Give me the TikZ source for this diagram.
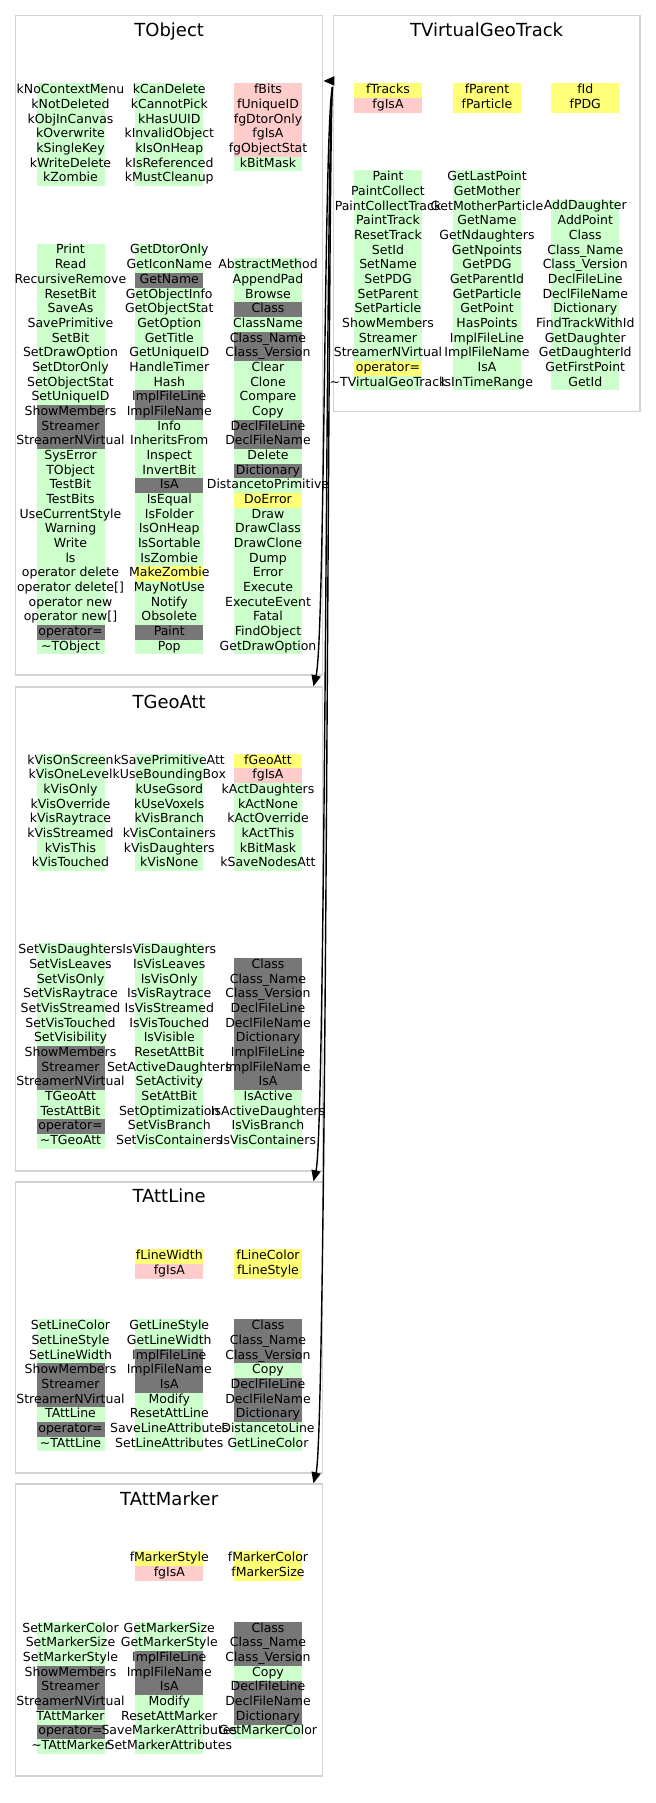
\documentclass[tikz,border=0pt]{standalone}
\usepackage{fontspec}
\setmainfont{DejaVu Sans}
\usetikzlibrary{arrows.meta,fit}
\definecolor{cG}{HTML}{CCFFCC}
\definecolor{cP}{HTML}{FFCCCC}
\definecolor{cY}{HTML}{FFFF77}
\definecolor{cD}{HTML}{777777}
\definecolor{boxgray}{HTML}{D3D3D3}
\newcommand\mytilde{\char"7E}
\newif\iffillpass
\tikzset{
  mem/.style={inner sep=0pt, outer sep=0pt, font=\fontsize{6.25}{7.5}\selectfont, text height=4.6pt, text depth=1.6pt, anchor=center},
  ttl/.style={inner sep=0pt, font=\fontsize{9}{10}\selectfont, text height=6.6pt, text depth=0pt},
  clsbox/.style={draw=boxgray, line width=0.75pt, inner sep=0pt},
  edge/.style={draw=black, line width=0.7pt, -{Triangle[length=5.5pt,width=4.6pt]}}
}
\newcommand\mycol[4]{%
  \foreach \mcl/\mtxt [count=\mi from 0] in {#4} {
    \iffillpass
      \fill[fill=c\mcl] ({#2-34},{#3+\mi*14.667-7.333}) rectangle ++(68,14.667);
    \else
      \node[mem] (#1-\mi) at ({#2},{#3+\mi*14.667}) {\mtxt};
    \fi
  }}
\newcommand\drawcols{%
% TObject
\mycol{of1}{70.5}{90.7}{G/kNoContextMenu,G/kNotDeleted,G/kObjInCanvas,G/kOverwrite,G/kSingleKey,G/kWriteDelete,G/kZombie}
\mycol{of2}{169.3}{90.7}{G/kCanDelete,G/kCannotPick,G/kHasUUID,G/kInvalidObject,G/kIsOnHeap,G/kIsReferenced,G/kMustCleanup}
\mycol{of3}{268}{90.7}{P/fBits,P/fUniqueID,P/fgDtorOnly,P/fgIsA,P/fgObjectStat,G/kBitMask}
\mycol{om1}{70.5}{251}{G/Print,G/Read,G/RecursiveRemove,G/ResetBit,G/SaveAs,G/SavePrimitive,G/SetBit,G/SetDrawOption,G/SetDtorOnly,G/SetObjectStat,G/SetUniqueID,D/ShowMembers,D/Streamer,D/StreamerNVirtual,G/SysError,G/TObject,G/TestBit,G/TestBits,G/UseCurrentStyle,G/Warning,G/Write,G/ls,G/operator delete,G/operator delete[],G/operator new,G/operator new[],D/operator=,G/\mytilde TObject}
\mycol{om2}{169.3}{251}{G/GetDtorOnly,G/GetIconName,D/GetName,G/GetObjectInfo,G/GetObjectStat,G/GetOption,G/GetTitle,G/GetUniqueID,G/HandleTimer,G/Hash,D/ImplFileLine,D/ImplFileName,G/Info,G/InheritsFrom,G/Inspect,G/InvertBit,D/IsA,G/IsEqual,G/IsFolder,G/IsOnHeap,G/IsSortable,G/IsZombie,Y/MakeZombie,G/MayNotUse,G/Notify,G/Obsolete,D/Paint,G/Pop}
\mycol{om3}{268}{265.67}{G/AbstractMethod,G/AppendPad,G/Browse,D/Class,G/ClassName,D/Class\_Name,D/Class\_Version,G/Clear,G/Clone,G/Compare,G/Copy,D/DeclFileLine,D/DeclFileName,G/Delete,D/Dictionary,G/DistancetoPrimitive,Y/DoError,G/Draw,G/DrawClass,G/DrawClone,G/Dump,G/Error,G/Execute,G/ExecuteEvent,G/Fatal,G/FindObject,G/GetDrawOption}
% TVirtualGeoTrack
\mycol{vf1}{388}{90.7}{Y/fTracks,P/fgIsA}
\mycol{vf2}{487}{90.7}{Y/fParent,Y/fParticle}
\mycol{vf3}{585.3}{90.7}{Y/fId,Y/fPDG}
\mycol{vm1}{388}{177.7}{G/Paint,G/PaintCollect,G/PaintCollectTrack,G/PaintTrack,G/ResetTrack,G/SetId,G/SetName,G/SetPDG,G/SetParent,G/SetParticle,G/ShowMembers,G/Streamer,G/StreamerNVirtual,Y/operator=,G/\mytilde TVirtualGeoTrack}
\mycol{vm2}{487}{177.7}{G/GetLastPoint,G/GetMother,G/GetMotherParticle,G/GetName,G/GetNdaughters,G/GetNpoints,G/GetPDG,G/GetParentId,G/GetParticle,G/GetPoint,G/HasPoints,G/ImplFileLine,G/ImplFileName,G/IsA,G/IsInTimeRange}
\mycol{vm3}{585.3}{207}{G/AddDaughter,G/AddPoint,G/Class,G/Class\_Name,G/Class\_Version,G/DeclFileLine,G/DeclFileName,G/Dictionary,G/FindTrackWithId,G/GetDaughter,G/GetDaughterId,G/GetFirstPoint,G/GetId}
% TGeoAtt
\mycol{gf1}{70.5}{761}{G/kVisOnScreen,G/kVisOneLevel,G/kVisOnly,G/kVisOverride,G/kVisRaytrace,G/kVisStreamed,G/kVisThis,G/kVisTouched}
\mycol{gf2}{169.3}{761}{G/kSavePrimitiveAtt,G/kUseBoundingBox,G/kUseGsord,G/kUseVoxels,G/kVisBranch,G/kVisContainers,G/kVisDaughters,G/kVisNone}
\mycol{gf3}{268}{761}{Y/fGeoAtt,P/fgIsA,G/kActDaughters,G/kActNone,G/kActOverride,G/kActThis,G/kBitMask,G/kSaveNodesAtt}
\mycol{gm1}{70.5}{950.7}{G/SetVisDaughters,G/SetVisLeaves,G/SetVisOnly,G/SetVisRaytrace,G/SetVisStreamed,G/SetVisTouched,G/SetVisibility,D/ShowMembers,D/Streamer,D/StreamerNVirtual,G/TGeoAtt,G/TestAttBit,D/operator=,G/\mytilde TGeoAtt}
\mycol{gm2}{169.3}{950.7}{G/IsVisDaughters,G/IsVisLeaves,G/IsVisOnly,G/IsVisRaytrace,G/IsVisStreamed,G/IsVisTouched,G/IsVisible,G/ResetAttBit,G/SetActiveDaughters,G/SetActivity,G/SetAttBit,G/SetOptimization,G/SetVisBranch,G/SetVisContainers}
\mycol{gm3}{268}{965.4}{D/Class,D/Class\_Name,D/Class\_Version,D/DeclFileLine,D/DeclFileName,D/Dictionary,D/ImplFileLine,D/ImplFileName,D/IsA,G/IsActive,G/IsActiveDaughters,G/IsVisBranch,G/IsVisContainers}
% TAttLine
\mycol{lf2}{169.3}{1256.7}{Y/fLineWidth,P/fgIsA}
\mycol{lf3}{268}{1256.7}{Y/fLineColor,Y/fLineStyle}
\mycol{lm1}{70.5}{1326.7}{G/SetLineColor,G/SetLineStyle,G/SetLineWidth,D/ShowMembers,D/Streamer,D/StreamerNVirtual,G/TAttLine,D/operator=,G/\mytilde TAttLine}
\mycol{lm2}{169.3}{1326.7}{G/GetLineStyle,G/GetLineWidth,D/ImplFileLine,D/ImplFileName,D/IsA,G/Modify,G/ResetAttLine,G/SaveLineAttributes,G/SetLineAttributes}
\mycol{lm3}{268}{1326.7}{D/Class,D/Class\_Name,D/Class\_Version,G/Copy,D/DeclFileLine,D/DeclFileName,D/Dictionary,G/DistancetoLine,G/GetLineColor}
% TAttMarker
\mycol{mf2}{169.3}{1558.7}{Y/fMarkerStyle,P/fgIsA}
\mycol{mf3}{268}{1558.7}{Y/fMarkerColor,Y/fMarkerSize}
\mycol{mm1}{70.5}{1629.3}{G/SetMarkerColor,G/SetMarkerSize,G/SetMarkerStyle,D/ShowMembers,D/Streamer,D/StreamerNVirtual,G/TAttMarker,D/operator=,G/\mytilde TAttMarker}
\mycol{mm2}{169.3}{1629.3}{G/GetMarkerSize,G/GetMarkerStyle,D/ImplFileLine,D/ImplFileName,D/IsA,G/Modify,G/ResetAttMarker,G/SaveMarkerAttributes,G/SetMarkerAttributes}
\mycol{mm3}{268}{1629.3}{D/Class,D/Class\_Name,D/Class\_Version,G/Copy,D/DeclFileLine,D/DeclFileName,D/Dictionary,G/GetMarkerColor}
}
\begin{document}
\begin{tikzpicture}[x=0.5pt,y=-0.5pt]
\useasboundingbox (0,0) rectangle (656,1803);
\fill[white] (0,0) rectangle (656,1803);
% class boxes
\node[clsbox, fit={(15.7,15.7) (322.7,675)}] (tobj) {};
\node[clsbox, fit={(333.3,15.7) (640,411.5)}] (tvgt) {};
\node[clsbox, fit={(15.7,687) (322.7,1171)}] (geo) {};
\node[clsbox, fit={(15.7,1182) (322.7,1473)}] (line) {};
\node[clsbox, fit={(15.7,1484) (322.7,1776)}] (marker) {};
% titles
\node[ttl] (tobjT) at (169.2,30.2) {TObject};
\node[ttl] (tvgtT) at (486.6,30.2) {TVirtualGeoTrack};
\node[ttl] (geoT) at (169.2,701.7) {TGeoAtt};
\node[ttl] (lineT) at (169.2,1196) {TAttLine};
\node[ttl] (markerT) at (169.2,1498.7) {TAttMarker};
% member cells: fills first, then texts
\fillpasstrue\drawcols
\fillpassfalse\drawcols
% inheritance edges
\coordinate (src) at ([yshift=-36pt]tvgt.north west);
\draw[edge] ([yshift=-33pt]tvgt.north west) -- ([yshift=-33pt]tobj.north east);
\draw[edge] (src) .. controls (324,115) and (325,640) .. ([xshift=-5pt]geo.north east);
\draw[edge] (src) .. controls (326,120) and (326,1130) .. ([xshift=-5pt]line.north east);
\draw[edge] (src) .. controls (328,125) and (327,1430) .. ([xshift=-5pt]marker.north east);
\end{tikzpicture}
\end{document}
